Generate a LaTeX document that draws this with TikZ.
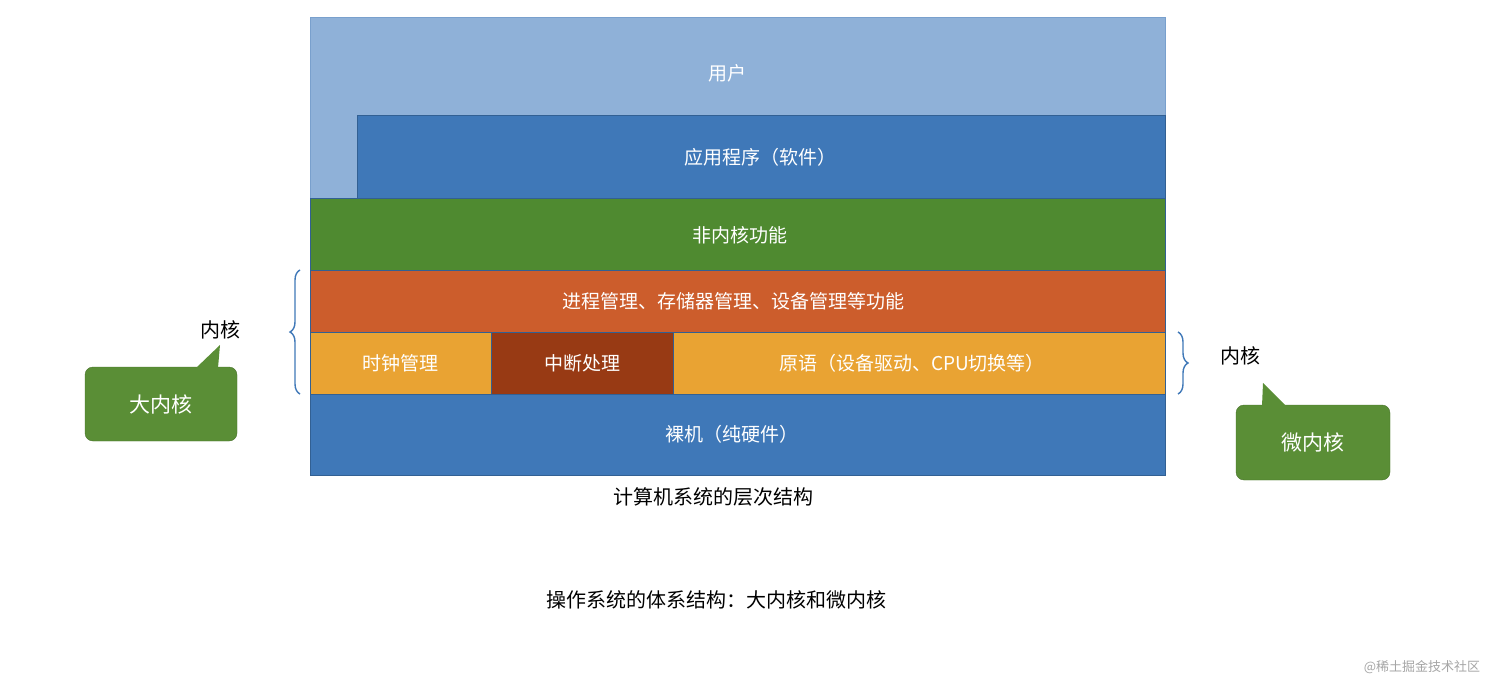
\documentclass[tikz,border=0pt]{standalone}
\usepackage{fontspec}
\setmainfont{Noto Sans CJK SC}
\usetikzlibrary{decorations.pathreplacing}
\definecolor{lblue}{HTML}{8FB1D8}
\definecolor{dblue}{HTML}{3F78B8}
\definecolor{kgreen}{HTML}{4F8A30}
\definecolor{korange}{HTML}{CC5D2C}
\definecolor{kyellow}{HTML}{E9A333}
\definecolor{kbrown}{HTML}{983A14}
\definecolor{cgreen}{HTML}{5A8E36}
\tikzset{layer/.style={draw=dblue!80!black,line width=0.6pt,text=white,font=\fontsize{19}{22}\selectfont},
 callout/.style={fill=cgreen,draw=cgreen!80!black,rounded corners=8pt,text=white,font=\fontsize{21}{24}\selectfont},
 brc/.style={draw=dblue,line width=1.4pt,decorate,decoration={brace,amplitude=10pt}},
 lbl/.style={font=\fontsize{20}{24}\selectfont}}
\begin{document}
\begin{tikzpicture}[x=1pt,y=-1pt]
\useasboundingbox[fill=white] (0,0) rectangle (1511,687);
\fill[lblue,draw=dblue!70] (310,17) rectangle (1165,198);
\node[text=white,font=\fontsize{19}{22}\selectfont] (user) at (727,73) {用户};
\path[layer,fill=dblue] (357,115) rectangle (1165,198);
\node[text=white,font=\fontsize{19}{22}\selectfont] (app) at (760,157) {应用程序（软件）};
\path[layer,fill=kgreen] (310,198) rectangle (1165,270);
\node[text=white,font=\fontsize{19}{22}\selectfont] (nk) at (740,235) {非内核功能};
\path[layer,fill=korange] (310,270) rectangle (1165,332);
\node[text=white,font=\fontsize{19}{22}\selectfont] (proc) at (733,301) {进程管理、存储器管理、设备管理等功能};
\path[layer,fill=kyellow] (310,332) rectangle (491,394);
\path[layer,fill=kbrown] (491,332) rectangle (673,394);
\path[layer,fill=kyellow] (673,332) rectangle (1165,394);
\node[text=white,font=\fontsize{19}{22}\selectfont] (clk) at (400,363) {时钟管理};
\node[text=white,font=\fontsize{19}{22}\selectfont] (irq) at (582,363) {中断处理};
\node[text=white,font=\fontsize{19}{22}\selectfont] (prim) at (912,363) {原语（设备驱动、CPU切换等）};
\path[layer,fill=dblue] (310,394) rectangle (1165,475);
\node[text=white,font=\fontsize{19}{22}\selectfont] (hw) at (732,434) {裸机（纯硬件）};
\node[lbl] (cap1) at (713,497) {计算机系统的层次结构};
\node[lbl] (cap2) at (716,600) {操作系统的体系结构：大内核和微内核};
\draw[brc] (300,394) -- (300,270);
\node[lbl] (k1) at (220,330) {内核};
\draw[brc] (1178,332) -- (1178,394);
\node[lbl] (k2) at (1240,356) {内核};
\path[callout] (85,367) rectangle (237,441);
\fill[cgreen] (196,368) -- (220,345) -- (218,368) -- cycle;
\node[text=white,font=\fontsize{21}{24}\selectfont] (big) at (161,404) {大内核};
\path[callout] (1236,405) rectangle (1390,480);
\fill[cgreen] (1262,406) -- (1263,383) -- (1286,406) -- cycle;
\node[text=white,font=\fontsize{21}{24}\selectfont] (micro) at (1313,442) {微内核};
\node[text=gray!70,font=\fontsize{13}{15}\selectfont] (wm) at (1422,667) {@稀土掘金技术社区};
\end{tikzpicture}
\end{document}
